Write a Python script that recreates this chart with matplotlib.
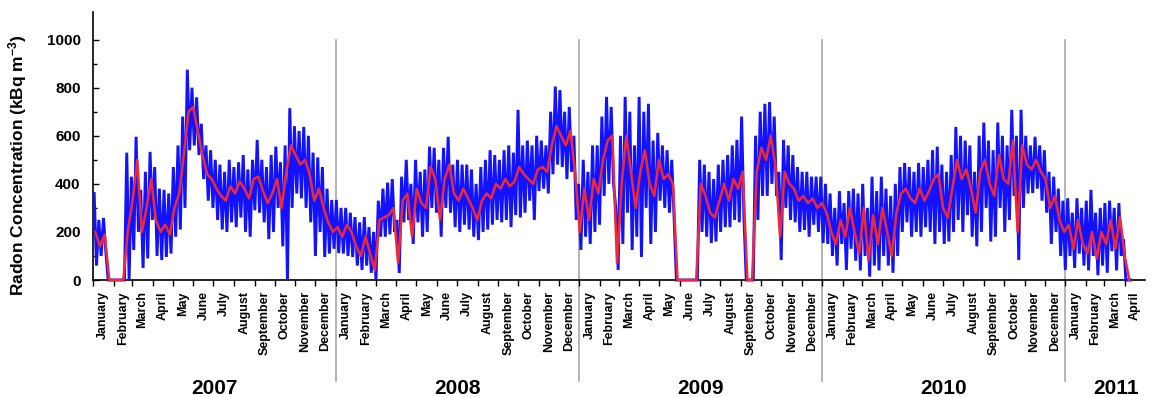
import numpy as np
import matplotlib
matplotlib.use("Agg")
import matplotlib.pyplot as plt
import matplotlib.transforms as mtransforms

plt.rcParams['font.family'] = ['Liberation Sans', 'DejaVu Sans']
plt.rcParams['font.weight'] = 'bold'
plt.rcParams['mathtext.fontset'] = 'custom'
plt.rcParams['mathtext.rm'] = 'Liberation Sans:bold'
plt.rcParams['mathtext.bf'] = 'Liberation Sans:bold'
plt.rcParams['mathtext.default'] = 'rm'

# ---- data: weekly readings starting 2007-01-01 ----
daily_mean = [
    200, 140, 190, 0, 0, 0, 0, 208, 330, 500,
    200, 300, 420, 250, 200, 230, 190, 300, 360, 520,
    700, 720, 620, 520, 440, 420, 380, 350, 330, 390,
    360, 410, 380, 340, 420, 430, 370, 320, 360, 420,
    300, 450, 560, 520, 480, 500, 440, 330, 380, 300,
    240, 200, 220, 180, 230, 200, 140, 100, 180, 110,
    40, 250, 260, 270, 300, 70, 330, 360, 180, 380,
    320, 300, 470, 420, 250, 420, 480, 360, 330, 380,
    340, 300, 250, 330, 360, 340, 400, 380, 420, 390,
    410, 470, 440, 420, 400, 460, 470, 450, 560, 640,
    600, 560, 620, 450, 200, 380, 250, 420, 360, 500,
    580, 600, 70, 400, 600, 450, 300, 450, 540, 400,
    350, 500, 420, 440, 400, 0, 0, 0, 0, 0,
    400, 350, 280, 260, 330, 400, 330, 420, 380, 450,
    0, 0, 450, 550, 500, 600, 480, 180, 450, 400,
    380, 330, 350, 320, 340, 300, 320, 280, 200, 150,
    250, 180, 300, 200, 110, 300, 80, 270, 150, 300,
    200, 100, 280, 360, 380, 340, 320, 380, 330, 370,
    420, 440, 300, 260, 380, 500, 420, 460, 380, 280,
    450, 500, 400, 350, 520, 420, 400, 580, 200, 560,
    480, 460, 500, 450, 420, 300, 350, 250, 200, 230,
    130, 250, 150, 110, 200, 90, 200, 150, 250, 130,
    262, 100, 0,
]

hourly_peak = [
    360, 250, 258, 0, 0, 0, 0, 530, 430, 596,
    375, 450, 533, 470, 380, 375, 360, 470, 560, 680,
    875, 800, 760, 650, 560, 540, 500, 480, 450, 500,
    470, 490, 520, 460, 500, 583, 500, 470, 520, 555,
    490, 560, 715, 640, 620, 637, 600, 530, 510, 470,
    380, 333, 333, 300, 300, 280, 262, 240, 262, 220,
    200, 330, 380, 405, 420, 250, 430, 500, 400, 500,
    450, 460, 555, 550, 500, 550, 596, 480, 500, 480,
    480, 460, 400, 470, 500, 540, 520, 500, 540, 560,
    530, 708, 560, 580, 560, 600, 580, 560, 700, 805,
    790, 700, 720, 600, 400, 500, 450, 560, 560, 680,
    762, 720, 300, 600, 762, 700, 560, 762, 700, 733,
    580, 612, 560, 540, 500, 0, 0, 0, 0, 0,
    500, 480, 450, 420, 480, 500, 520, 560, 583, 680,
    0, 0, 600, 700, 733, 740, 680, 450, 583, 560,
    520, 470, 450, 450, 430, 430, 430, 400, 360, 300,
    370, 320, 370, 380, 360, 400, 300, 430, 370, 430,
    380, 350, 400, 470, 487, 470, 450, 487, 470, 500,
    540, 555, 480, 450, 520, 637, 600, 580, 560, 450,
    600, 655, 580, 540, 655, 600, 560, 708, 600, 708,
    600, 560, 596, 560, 540, 450, 430, 380, 330, 340,
    280, 340, 300, 330, 375, 280, 300, 320, 330, 300,
    320, 170, 0,
]

hourly_trough = [
    60, 100, 120, 0, 0, 0, 0, 0, 125, 200,
    50, 90, 250, 100, 83, 96, 110, 180, 210, 300,
    540, 560, 520, 420, 330, 300, 250, 210, 200, 240,
    220, 260, 200, 180, 290, 280, 240, 170, 200, 300,
    140, 0, 300, 360, 340, 300, 240, 100, 200, 96,
    110, 130, 112, 110, 100, 96, 60, 42, 60, 30,
    0, 180, 180, 190, 200, 29, 240, 250, 150, 240,
    180, 200, 300, 280, 180, 300, 280, 220, 200, 230,
    210, 180, 166, 200, 210, 230, 250, 240, 250, 220,
    270, 260, 280, 330, 250, 370, 380, 360, 440, 480,
    470, 420, 450, 250, 125, 180, 150, 200, 230, 350,
    400, 400, 42, 150, 280, 125, 180, 96, 300, 150,
    200, 330, 300, 280, 262, 0, 0, 0, 0, 0,
    200, 180, 154, 160, 200, 220, 220, 250, 240, 260,
    0, 0, 250, 350, 350, 400, 350, 83, 300, 250,
    240, 200, 208, 180, 230, 200, 154, 150, 100, 60,
    150, 42, 130, 80, 40, 100, 14, 60, 40, 100,
    60, 30, 100, 200, 240, 180, 200, 180, 220, 200,
    150, 200, 150, 160, 200, 250, 200, 270, 180, 140,
    200, 300, 160, 180, 300, 200, 250, 350, 83, 300,
    360, 362, 380, 330, 280, 150, 200, 100, 42, 100,
    50, 110, 60, 40, 100, 20, 60, 30, 120, 40,
    100, 0, 0,
]

month_names = ["January", "February", "March", "April", "May", "June", "July",
               "August", "September", "October", "November", "December"]
years = ["2007", "2008", "2009", "2010", "2011"]

# ---- positions ----
origin = np.datetime64('2007-01-01')
weeks = np.arange(len(daily_mean))
x_red = weeks * 7 + 3.5
x_blue = np.column_stack([weeks * 7 + 1.75, weeks * 7 + 5.25]).ravel()
y_blue = np.column_stack([hourly_peak, hourly_trough]).ravel()

months = np.arange('2007-01', '2011-06', dtype='datetime64[M]')
mdays = (months.astype('datetime64[D]') - origin).astype(float)
month_starts = mdays[:-1]
month_centers = (mdays[:-1] + mdays[1:]) / 2
month_labels = [month_names[i % 12] for i in range(len(month_starts))]
year_starts = [(np.datetime64(f'{y}-01-01') - origin).astype(float) for y in years]

fig = plt.figure(figsize=(11.51, 3.97), dpi=100)
ax = fig.add_axes([93/1151, 1 - 280/397, (1145-93)/1151, (280-12)/397])

ax.plot(x_blue, y_blue, color='#1212ff', lw=2.1, solid_joinstyle='miter',
        clip_on=False, zorder=3)
ax.plot(x_red, daily_mean, color='#ee2a3a', lw=1.8, clip_on=False, zorder=4)

ax.set_xlim(0, mdays[-1])
ax.set_ylim(0, 1115)

for s in ['top', 'right']:
    ax.spines[s].set_visible(False)
for s in ['left', 'bottom']:
    ax.spines[s].set_linewidth(1.2)

ax.set_yticks([0, 200, 400, 600, 800, 1000])
ax.set_yticks([100, 300, 500, 700, 900], minor=True)
ax.tick_params(axis='y', which='major', direction='in', length=4, width=1, pad=9, labelsize=11)
ax.tick_params(axis='y', which='minor', direction='in', length=3, width=1)
for lab in ax.get_yticklabels():
    lab.set_fontweight('bold')

ax.set_xticks(month_starts)
ax.set_xticklabels([])
ax.set_xticks(month_centers, minor=True)
ax.set_xticklabels(month_labels, minor=True, rotation=90, fontsize=9, fontweight='bold')
ax.tick_params(axis='x', which='major', direction='out', length=4, width=1)
ax.tick_params(axis='x', which='minor', length=0, pad=8)

trans = mtransforms.blended_transform_factory(ax.transData, ax.transAxes)
top_frac = 1000 / 1115
bot_frac = (280 - 381) / 268
for ys in year_starts[1:]:
    ax.plot([ys, ys], [top_frac, bot_frac], transform=trans, color='#a8a8a8',
            lw=1.2, clip_on=False, zorder=0)

year_centers = [(year_starts[i] + year_starts[i + 1]) / 2 for i in range(4)]
year_centers.append(year_starts[4] + 76)
for yc, yl in zip(year_centers, years):
    ax.text(yc, (280 - 389) / 268, yl, transform=trans, ha='center', va='center',
            fontsize=15, fontweight='bold')

fig.text(18/1151, 1 - 165/397, r"Radon Concentration (kBq m$^{-3}$)", rotation=90,
         ha='center', va='center', fontsize=12.5, fontweight='bold')

fig.savefig('out.png', dpi=100)
